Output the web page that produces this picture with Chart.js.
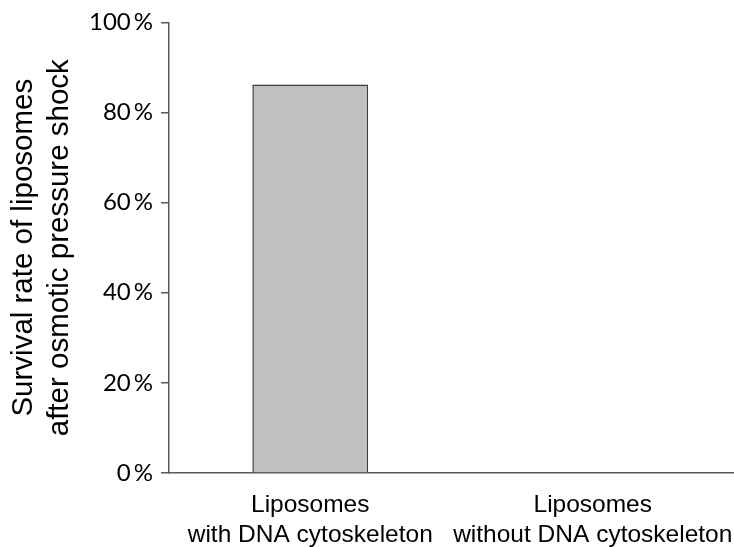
<!DOCTYPE html>
<html>
<head>
<meta charset="utf-8">
<script src="https://cdn.jsdelivr.net/npm/chart.js@4"></script>
<style>
    html, body { margin: 0; padding: 0; background: #fff; }
    #wrap { width: 734px; height: 547px; }
</style>
</head>
<body>
<div id="wrap"><canvas id="survival-chart" width="734" height="547"></canvas></div>
<script>
// Categories and values
const categories = [
    ['Liposomes', 'with DNA cytoskeleton'],
    ['Liposomes', 'without DNA cytoskeleton']
];
const survivalRate = [86.2, 0]; // % surviving osmotic pressure shock
const yTicks = [0, 20, 40, 60, 80, 100];

const axisColor = '#5a5a5a';

const ctx = document.getElementById('survival-chart').getContext('2d');
const chart = new Chart(ctx, {
    type: 'bar',
    data: {
        labels: categories,
        datasets: [{
            data: survivalRate,
            backgroundColor: '#c0c0c0',
            borderColor: '#3a3a3a',
            borderWidth: 1.5,
            borderSkipped: 'bottom',
            barPercentage: 0.41,
            categoryPercentage: 1
        }]
    },
    options: {
        responsive: false,
        animation: false,
        layout: { padding: { top: 21, right: 0, bottom: 0, left: 0 } },
        plugins: {
            legend: { display: false },
            tooltip: { enabled: false }
        },
        scales: {
            x: {
                grid: { display: false },
                border: { display: true, color: axisColor, width: 1.5 },
                ticks: {
                    color: '#000',
                    padding: 9,
                    maxRotation: 0,
                    autoSkip: false,
                    font: { family: 'Liberation Sans', size: 24.5, lineHeight: 1.22 }
                },
                afterFit: function (scale) {
                    // let the last label run to the edge like in the figure
                    scale.height = 74;
                    scale.paddingLeft = 0;
                    scale.paddingRight = 0;
                }
            },
            y: {
                min: 0,
                max: 100,
                afterBuildTicks: function (scale) {
                    scale.ticks = yTicks.map(v => ({ value: v }));
                },
                grid: {
                    drawOnChartArea: false,
                    drawTicks: true,
                    tickLength: 8,
                    color: axisColor,
                    lineWidth: 1.5
                },
                border: { display: true, color: axisColor, width: 1.5 },
                ticks: {
                    color: '#000',
                    padding: 8,
                    callback: v => v + '\u2009%',
                    font: { family: 'Lato', size: 24 }
                },
                title: {
                    display: true,
                    text: ['Survival rate of liposomes', 'after osmotic pressure shock'],
                    color: '#000',
                    padding: { top: 6, bottom: 0 },
                    font: { family: 'Liberation Sans', size: 29.5, lineHeight: 1.22 }
                },
                afterFit: function (scale) { scale.width = 169; }
            }
        }
    }
});
</script>
</body>
</html>
